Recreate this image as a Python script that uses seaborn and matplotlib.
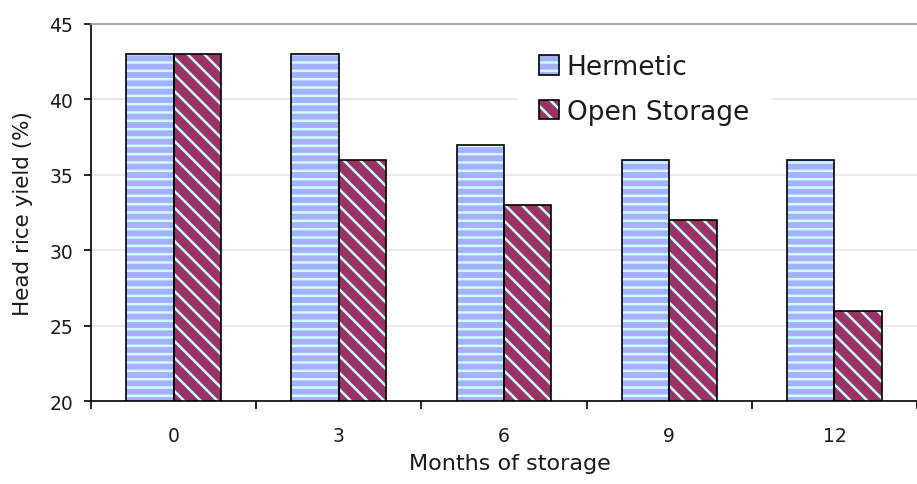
import numpy as np
import pandas as pd
import matplotlib
matplotlib.use('Agg')
from matplotlib import pyplot as plt
from matplotlib.patches import Patch, Rectangle
from matplotlib.legend_handler import HandlerTuple
import seaborn as sns

months = ['0', '3', '6', '9', '12']
hermetic = [43, 43, 37, 36, 36]
open_storage = [43, 36, 33, 32, 26]
series_names = ['Hermetic', 'Open Storage']
y_ticks = [20, 25, 30, 35, 40, 45]

fill_colors = {'Hermetic': '#a7aeff', 'Open Storage': '#993366'}
hatch_styles = {'Hermetic': '--', 'Open Storage': '\\\\'}
hatch_color = '#ccffff'


def main():
    df = pd.DataFrame({
        'month': months * 2,
        'yield': hermetic + open_storage,
        'storage': [series_names[0]] * len(months) + [series_names[1]] * len(months),
    })

    sns.set_style('white')
    plt.rcParams['font.family'] = ['DejaVu Sans']
    plt.rcParams['text.color'] = '#1a1a1a'
    plt.rcParams['xtick.color'] = '#1a1a1a'
    plt.rcParams['ytick.color'] = '#1a1a1a'
    plt.rcParams['axes.labelcolor'] = '#1a1a1a'
    plt.rcParams['hatch.linewidth'] = 1.8
    plt.rcParams['hatch.color'] = hatch_color

    fig = plt.figure(figsize=(9.17, 4.85), dpi=100)
    ax = fig.add_axes([91 / 917, 1 - 402 / 485, (917 - 91) / 917, (402 - 25) / 485])

    sns.barplot(data=df, x='month', y='yield', hue='storage', order=months,
                hue_order=series_names, palette=fill_colors, width=0.573,
                saturation=1, ax=ax, legend=False)

    # bars: fill + light hatch, then a black outline drawn on top
    for name, container in zip(series_names, ax.containers):
        for p in container:
            p.set_hatch(hatch_styles[name])
            p.set_edgecolor(hatch_color)
            p.set_linewidth(0)
            ax.add_patch(Rectangle(p.get_xy(), p.get_width(), p.get_height(),
                                   fill=False, edgecolor='black', linewidth=1.2,
                                   zorder=p.get_zorder() + 0.1))

    ax.set_ylim(20, 45)
    ax.set_xlim(-0.5, -0.5 + (917 - 91) / 167.5)
    ax.set_yticks(y_ticks)
    ax.set_yticklabels([str(t) for t in y_ticks], fontsize=13.5)
    ax.yaxis.grid(True, color='#e6e6e6', linewidth=1.2)
    ax.set_axisbelow(True)

    ax.spines['right'].set_visible(False)
    ax.spines['top'].set_color('#9a9a9a')
    ax.spines['top'].set_linewidth(1.2)
    for s in ['left', 'bottom']:
        ax.spines[s].set_color('black')
        ax.spines[s].set_linewidth(1.2)

    ax.tick_params(axis='y', which='major', left=True, length=5, width=1.2,
                   pad=8, color='black')
    ax.set_xticks(range(len(months)))
    ax.set_xticklabels(months, fontsize=13.5)
    ax.set_xticks(np.arange(-0.5, len(months), 1.0), minor=True)
    ax.tick_params(axis='x', which='major', length=0, pad=18)
    ax.tick_params(axis='x', which='minor', bottom=True, length=6, width=1.2,
                   color='black')

    ax.set_xlabel('Months of storage', fontsize=16)
    ax.xaxis.set_label_coords((510 - 91) / 826, -(454 - 402) / 377)
    ax.set_ylabel('Head rice yield (%)', fontsize=15.5)
    ax.yaxis.set_label_coords(-(91 - 33) / 826, 0.5)

    handles = []
    for name in series_names:
        fill = Patch(facecolor=fill_colors[name], edgecolor=hatch_color,
                     linewidth=0, hatch=hatch_styles[name])
        edge = Patch(fill=False, edgecolor='black', linewidth=1.2)
        handles.append((fill, edge))
    ax.legend(handles, series_names, loc='upper left',
              bbox_to_anchor=((518 - 91) / 826, 1 - (34 - 25) / 377),
              handler_map={tuple: HandlerTuple(ndivide=1, pad=0)},
              fontsize=19, frameon=True, fancybox=False, edgecolor='white',
              framealpha=1, handlelength=0.77, handleheight=0.77,
              handletextpad=0.27, labelspacing=0.7, borderpad=0.8,
              borderaxespad=0)

    fig.savefig('out.png', dpi=100)


if __name__ == '__main__':
    main()
